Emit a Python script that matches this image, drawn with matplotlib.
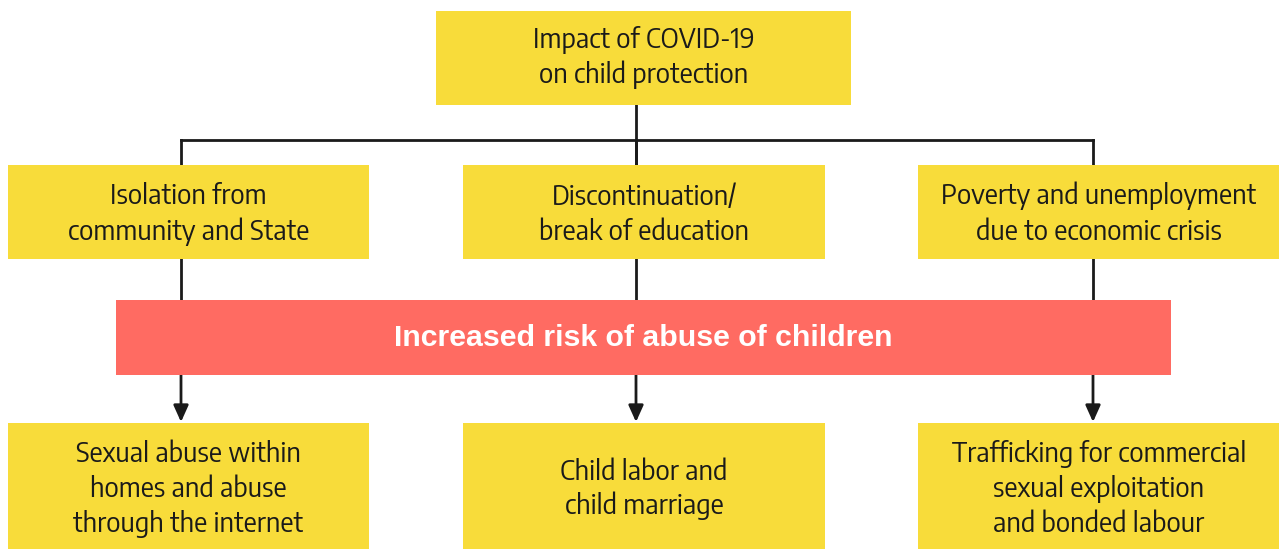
import matplotlib.pyplot as plt
from matplotlib.patches import Rectangle
from matplotlib.textpath import TextPath
from matplotlib import font_manager

# ---------------------------------------------------------
# CONTENT
# ---------------------------------------------------------

top_label = ["Impact of COVID-19", "on child protection"]

cause_labels = [
    ["Isolation from", "community and State"],
    ["Discontinuation/", "break of education"],
    ["Poverty and unemployment", "due to economic crisis"],
]

risk_label = "Increased risk of abuse of children"

effect_labels = [
    ["Sexual abuse within", "homes and abuse", "through the internet"],
    ["Child labor and", "child marriage"],
    ["Trafficking for commercial", "sexual exploitation", "and bonded labour"],
]

# ---------------------------------------------------------
# LAYOUT (pixels, y measured from top)
# ---------------------------------------------------------

W, H = 1279, 549
YELLOW = "#F8DC3A"
RED = "#FF6B62"
INK = "#1a1a1a"

col_x = [(8, 369), (463, 825), (918, 1280)]
col_mid = [181, 636, 1093]

top_box = (436, 851, 11, 105)
cause_y = (165, 259)
risk_box = (116, 1171, 300, 375)
effect_y = (423, 549)
branch_y = 140
LINE_STEP = 35

# ---------------------------------------------------------
# FONT: choose the installed narrow sans face closest to the reference proportions
# ---------------------------------------------------------

SAMPLE = "Poverty and unemployment"
SAMPLE_W = 313       # px in reference
TARGET_RATIO = 15.3  # sample width / cap height


def ext_w(s, prop):
    return TextPath((0, 0), s, size=100, prop=prop).get_extents().width


cands = sorted({f.fname for f in font_manager.fontManager.ttflist
                if (f.stretch in ("condensed", "semi-condensed", "extra-condensed")
                    or "Narrow" in f.name or "Condensed" in f.name)
                and "Mono" not in f.name and "Serif" not in f.name
                and "Mono" not in f.fname and "Serif" not in f.fname
                and f.style == "normal" and f.weight in (400, "normal", "regular")})

best = None
for fn in cands:
    try:
        prop = font_manager.FontProperties(fname=fn)
        if ext_w("iiiiiiii", prop) / ext_w("MMMMMMMM", prop) > 0.6:
            continue  # fixed pitch
        cap = TextPath((0, 0), "H", size=100, prop=prop).get_extents().height
        w = ext_w(SAMPLE, prop)
    except Exception:
        continue
    score = abs(w / cap - TARGET_RATIO)
    if best is None or score < best[0]:
        best = (score, fn, w)

if best is not None:
    fp = font_manager.FontProperties(fname=best[1])
    w100 = best[2]
else:
    fp = font_manager.FontProperties(family="Roboto")
    w100 = ext_w(SAMPLE, fp)
fp.set_size(SAMPLE_W * 100 / w100 * 0.72)

fig = plt.figure(figsize=(W / 100, H / 100), dpi=100)
ax = fig.add_axes([0, 0, 1, 1])
ax.set_xlim(0, W)
ax.set_ylim(H, 0)
ax.axis("off")


def box(x0, x1, y0, y1, lines, base_off):
    ax.add_patch(Rectangle((x0, y0), x1 - x0, y1 - y0, color=YELLOW, lw=0, zorder=2))
    cx, cy = (x0 + x1) / 2, (y0 + y1) / 2
    n = len(lines)
    for i, s in enumerate(lines):
        ax.text(cx, cy + (i - (n - 1) / 2) * LINE_STEP + base_off, s,
                ha="center", va="baseline", fontproperties=fp, color=INK, zorder=3)


# connectors
ax.plot([col_mid[1], col_mid[1]], [top_box[3], cause_y[0]], color=INK, lw=2, zorder=1)
ax.plot([col_mid[0], col_mid[2]], [branch_y, branch_y], color=INK, lw=2, zorder=1)
for m in col_mid:
    ax.plot([m, m], [branch_y, cause_y[0]], color=INK, lw=2, zorder=1)
    ax.plot([m, m], [cause_y[1], risk_box[2]], color=INK, lw=2, zorder=1)
    ax.annotate("", xy=(m, effect_y[0] - 1), xytext=(m, risk_box[3]),
                arrowprops=dict(arrowstyle="-|>,head_length=1.0,head_width=0.45",
                                color=INK, lw=2, shrinkA=0, shrinkB=0),
                zorder=1)

box(*top_box, top_label, 7.5)
for (x0, x1), lab in zip(col_x, cause_labels):
    box(x0, x1, *cause_y, lab, 10)

x0, x1, y0, y1 = risk_box
ax.add_patch(Rectangle((x0, y0), x1 - x0, y1 - y0, color=RED, lw=0, zorder=2))
ax.text((x0 + x1) / 2, (y0 + y1) / 2, risk_label, ha="center", va="center",
        family="Liberation Sans", fontsize=21.8, weight="bold", color="white", zorder=3)

for (x0, x1), lab in zip(col_x, effect_labels):
    box(x0, x1, *effect_y, lab, 11)

fig.savefig("out.png", dpi=100)
